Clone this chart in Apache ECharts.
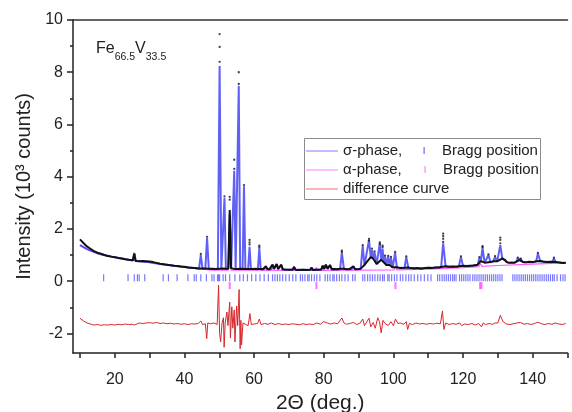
<!DOCTYPE html>
<html><head><meta charset="utf-8">
<script src="https://cdn.jsdelivr.net/npm/echarts@6/dist/echarts.min.js"></script>
<style>html,body{margin:0;padding:0;background:#fff}#c{width:572px;height:412px}</style>
</head><body><div id="c"></div>
<script>
// ---- tick labels ----
const xLabelValues = [20, 40, 60, 80, 100, 120, 140];
const xTickValues = [10, 20, 30, 40, 50, 60, 70, 80, 90, 100, 110, 120, 130, 140, 150];
const yLabelValues = [-2, 0, 2, 4, 6, 8, 10];
const yMinorValues = [-1, 1, 3, 5, 7, 9];

// ---- calculated profile (sigma-phase fit), [2theta, intensity 10^3] ----
const calcProfile = [
[10,1.38],[11,1.30],[12,1.23],[13,1.17],[14,1.12],[15,1.07],[16,1.03],[17,1.00],[18,0.97],[19,0.94],[20,0.92],[22,0.87],[24,0.82],[25.2,0.79],[25.6,1.08],[26.0,0.78],[28,0.75],[30,0.72],[32,0.68],[34,0.64],[36,0.61],[38,0.57],[40,0.54],[42,0.51],
[44.2,0.49],[44.7,1.0],[45.2,0.48],[46.0,0.48],[46.5,1.65],[47.0,0.47],[49.6,0.47],[50.1,8.24],[50.6,0.47],[51.1,0.47],[51.5,3.19],[51.9,0.47],[52.6,0.47],[53.0,2.55],[53.4,0.47],[53.9,0.47],[54.3,4.23],[54.7,0.47],[55.2,0.47],[55.6,7.47],[56.0,0.47],[56.7,0.47],[57.1,3.63],[57.5,0.47],[58.3,0.47],[58.7,1.32],[59.1,0.47],
[61.1,0.46],[61.5,1.27],[61.9,0.46],[63.0,0.47],[63.4,0.55],[63.8,0.46],[64.9,0.46],[65.3,0.62],[65.7,0.47],[66.1,0.47],[66.5,0.65],[66.9,0.46],[67.4,0.46],[67.8,0.62],[68.2,0.45],[71.1,0.44],[71.5,0.53],[71.9,0.44],[76.1,0.44],[76.5,0.5],[76.9,0.44],
[79.3,0.45],[79.7,0.58],[80.1,0.46],[80.6,0.62],[81.1,0.47],[81.8,0.6],[82.3,0.46],[84.7,0.46],[85.2,1.09],[85.8,0.47],[88.0,0.46],[88.5,0.55],[89.0,0.46],[90.6,0.47],[91.2,1.35],[91.7,0.6],[92.2,0.62],[93.0,1.58],[93.5,0.9],[93.85,1.2],[94.2,0.85],[94.6,1.1],[95.2,0.65],[95.6,0.7],[96.1,1.45],[96.5,0.8],[96.9,1.25],[97.25,0.7],[97.6,0.95],[98.0,0.6],[98.5,0.95],[98.9,0.6],[99.3,0.9],[99.8,0.52],[100.0,0.5],[100.5,1.09],[101.0,0.52],
[103.2,0.5],[103.7,0.93],[104.3,0.51],[107,0.5],[110,0.51],[112,0.52],[113.7,0.53],[114.3,1.45],[115.0,0.56],[116,0.55],[118.8,0.56],[119.4,0.93],[120.0,0.58],[122,0.58],[124.2,0.62],[124.7,0.9],[125.1,0.75],[125.6,1.28],[126.2,0.7],[126.7,0.72],[127.3,1.0],[127.9,0.72],[128.6,0.75],[129.2,0.93],[129.8,0.75],[130.2,0.8],[130.7,1.38],[131.3,0.85],[132.0,0.8],[132.6,0.72],[134,0.7],[135.2,0.72],[135.7,0.87],[136.2,0.8],[136.6,0.83],[137.3,0.72],[140,0.72],[141.0,0.75],[141.5,1.06],[142.2,0.76],[143,0.74],[145.5,0.72],[146.1,0.87],[146.7,0.72],[149.5,0.7]
];

// ---- alpha-phase contribution ----
const alphaProfile = [
[10,1.38],[12,1.23],[14,1.12],[16,1.03],[18,0.97],[20,0.92],[24,0.82],[28,0.75],[32,0.68],[36,0.61],[40,0.54],[44,0.47],[48,0.42],[52.6,0.42],[53.0,0.95],[53.4,0.42],[60,0.42],[70,0.41],[77.5,0.41],[77.9,0.52],[78.3,0.41],[90,0.42],[100.2,0.43],[100.6,0.56],[101.0,0.43],[110,0.46],[120,0.52],[124.6,0.56],[125.0,0.68],[125.4,0.57],[130,0.6],[140,0.65],[149.5,0.7]
];

// ---- observed data: dense background run ----
const observedRun = [
[10,1.60],[10.5,1.53],[11,1.46],[11.5,1.40],[12,1.33],[12.5,1.29],[13,1.24],[13.5,1.20],[14,1.15],[14.5,1.12],[15,1.09],[15.5,1.07],[16,1.05],[16.5,1.02],[17,1.00],[17.5,0.99],[18,0.96],[18.5,0.97],[19,0.94],[19.5,0.93],[20,0.92],[20.5,0.90],[21,0.89],[21.5,0.88],[22,0.87],[22.5,0.85],[23,0.84],[23.5,0.83],[24,0.82],[24.5,0.80],[25.2,0.80],[25.6,1.05],[26,0.77],[26.5,0.78],[27,0.76],[27.5,0.78],[28,0.77],[28.5,0.78],[29,0.76],[29.5,0.77],[30,0.75],[30.5,0.74],[31,0.73],[31.5,0.72],[32,0.70],[32.5,0.69],[33,0.67],[33.5,0.67],[34,0.65],[34.5,0.64],[35,0.63],[35.5,0.63],[36,0.61],[36.5,0.60],[37,0.59],[37.5,0.58],[38,0.58],[38.5,0.57],[39,0.56],[39.5,0.55],[40,0.55],[40.5,0.53],[41,0.52],[41.5,0.53],[42,0.51],[42.5,0.50],[43,0.50],[43.5,0.49],[44,0.49],[44.5,0.48],[45.5,0.49],[46,0.48],[47,0.48],[47.5,0.47],[48,0.48],[48.5,0.46],[49,0.47],[49.5,0.48],[51,0.49],[52,0.48],[52.6,0.49],[53.0,2.72],[53.4,0.5],[54,0.48],[55,0.47],[56.3,0.48],[57.8,0.47],[59.5,0.47],
[60,0.46],[60.5,0.48],[61.1,0.47],[61.9,0.47],[62.5,0.46],[63,0.47],[63.4,0.57],[63.8,0.47],[64.4,0.46],[64.9,0.47],[65.3,0.64],[65.7,0.48],[66.1,0.47],[66.5,0.66],[66.9,0.47],[67.4,0.47],[67.8,0.63],[68.2,0.46],[69,0.45],[70,0.44],[71.1,0.45],[71.5,0.55],[71.9,0.44],[73,0.43],[74,0.44],[75,0.43],[76.1,0.44],[76.5,0.52],[76.9,0.43],[78,0.44],[79.3,0.45],[79.7,0.6],[80.1,0.47],[80.6,0.63],[81.1,0.48],[81.8,0.62],[82.3,0.46],[83,0.47],[84,0.46],[84.7,0.48],[85.8,0.48],[86.5,0.46],[87.5,0.47],[88,0.46],[88.5,0.57],[89,0.46],[90,0.47],[90.6,0.48],[91.7,0.62],[92.2,0.64],[93.5,0.92],[94.2,0.86],[95.2,0.66],[95.6,0.72],[96.5,0.82],[97.25,0.72],[98.0,0.62],[98.9,0.62],[99.8,0.53],[100.0,0.51],[101.0,0.53],[102,0.5],[103.2,0.51],[104.3,0.52],[105,0.5],[106,0.49],[107,0.5],[108,0.48],[109,0.5],[110,0.51],[111,0.5],[112,0.52],[113,0.52],[113.7,0.54],[115.0,0.57],[116,0.55],[117,0.56],[118,0.55],[118.8,0.57],[120.0,0.59],[121,0.58],[122,0.59],[123,0.6],[124.2,0.63],[125.1,0.77],[126.2,0.71],[126.7,0.73],[127.9,0.73],[128.6,0.76],[129.8,0.76],[130.2,0.82],[131.3,0.87],[132.0,0.82],[132.6,0.73],[133.3,0.7],[134,0.72],[134.6,0.7],[135.2,0.74],[136.2,0.81],[137.3,0.73],[138,0.72],[139,0.74],[140,0.73],[141.0,0.76],[142.2,0.77],[143,0.75],[144,0.73],[145,0.74],[145.5,0.73],[146.7,0.73],[147.5,0.72],[148.5,0.7],[149.5,0.71]
];

// ---- observed data: points on peaks ----
const observedPeakPoints = [
[50.1,9.46],[50.1,8.97],[50.1,8.4],[55.6,8.0],[55.6,7.55],[54.3,4.65],[54.3,4.3],[53.0,3.23],[53.0,3.12],[51.5,3.25],[57.1,3.68],[46.5,1.7],[44.7,1.04],[58.7,1.58],[58.7,1.48],[58.7,1.4],[61.5,1.3],[61.5,1.36],
[85.2,1.12],[85.2,1.17],[91.2,1.38],[93.0,1.55],[93.0,1.62],[93.85,1.25],[94.6,1.14],[96.1,1.42],[96.1,1.48],[96.9,1.3],[96.9,1.36],[97.6,0.98],[98.5,0.97],[99.3,0.93],[100.5,1.12],[103.7,0.95],
[114.3,1.5],[114.3,1.62],[114.3,1.72],[114.3,1.82],[119.4,0.95],[124.7,0.92],[125.6,1.3],[125.6,1.34],[127.3,1.03],[129.2,0.96],[130.7,1.45],[130.7,1.58],[130.7,1.67],[135.7,0.9],[136.6,0.86],[141.5,1.08],[146.1,0.9]
];

// ---- difference curve (offset) ----
const differenceCurve = [
[10,-1.42],[10.5,-1.48],[11,-1.52],[11.5,-1.57],[12,-1.6],[13,-1.64],[14,-1.68],[15,-1.66],[16,-1.69],[17,-1.67],[18,-1.68],[19,-1.66],[20,-1.68],[21,-1.65],[22,-1.67],[23,-1.64],[24,-1.66],[25,-1.65],[25.6,-1.68],[26,-1.63],[27,-1.6],[28,-1.62],[29,-1.6],[30,-1.59],[31,-1.61],[32,-1.58],[33,-1.62],[34,-1.6],[35,-1.63],[36,-1.61],[37,-1.64],[38,-1.62],[39,-1.65],[40,-1.63],[41,-1.66],[42,-1.63],[43,-1.64],[44,-1.62],[44.7,-1.52],[45.2,-1.66],[46.0,-1.63],[46.4,-2.2],[46.7,-1.6],[47.5,-1.63],[48.5,-1.6],[49.4,-1.66],[49.8,-0.15],[50.1,-2.0],[50.4,-2.33],[50.8,-1.6],[51.2,-1.4],[51.4,-2.53],[51.7,-1.6],[52.2,-1.18],[52.5,-1.7],[53.0,-0.8],[53.2,-2.17],[53.6,-0.98],[53.9,-1.8],[54.3,-1.1],[54.5,-2.33],[55.0,-0.95],[55.3,-1.7],[55.7,-0.32],[56.0,-2.59],[56.2,-1.5],[56.4,-2.44],[56.8,-1.6],[57.5,-1.65],[58.3,-1.7],[58.8,-1.24],[59.2,-1.66],[60,-1.64],[61,-1.62],[61.5,-1.45],[62,-1.66],[63,-1.62],
[64,-1.65],[65,-1.6],[66,-1.66],[67,-1.62],[68,-1.66],[69,-1.64],[70,-1.66],[71,-1.63],[72,-1.65],[73,-1.67],[74,-1.63],[75,-1.66],[76,-1.64],[77,-1.66],[78,-1.6],[79,-1.65],[80,-1.55],[81,-1.6],[82,-1.64],[83,-1.6],[84,-1.63],[85.2,-1.41],[85.8,-1.6],[86.5,-1.65],[87.5,-1.62],[88.5,-1.58],[89.5,-1.66],[90.5,-1.6],[91.2,-1.45],[91.7,-1.7],[92.4,-1.55],[93.0,-1.42],[93.5,-1.75],[94.2,-1.58],[94.8,-1.8],[95.5,-1.4],[96.0,-1.55],[96.5,-1.98],[97.0,-1.5],[97.6,-1.62],[98.5,-1.7],[99.3,-1.55],[100.0,-1.7],[100.6,-1.45],[101.3,-1.62],[102,-1.6],[103,-1.65],[103.7,-1.55],[104.1,-1.85],[104.6,-1.62],[105.5,-1.66],[106.5,-1.6],[107.5,-1.64],[108.5,-1.62],[109.5,-1.65],[110.5,-1.62],[111.5,-1.64],[112.5,-1.61],[113.5,-1.63],[114.1,-1.14],[114.5,-1.85],[115,-1.6],[116,-1.66],[117,-1.62],[118,-1.65],[119,-1.6],[119.6,-1.7],[120.5,-1.64],[121.5,-1.66],[122.5,-1.62],[123.5,-1.68],[124.5,-1.62],[125.3,-1.75],[125.8,-1.6],[126.5,-1.66],[127.5,-1.62],[128.5,-1.65],[129.2,-1.6],[130.0,-1.6],[130.7,-1.31],[131.5,-1.55],[132.5,-1.64],[133.5,-1.66],[134.5,-1.63],[135.5,-1.6],[136.5,-1.58],[137.5,-1.65],[138.5,-1.62],[139.5,-1.66],[140.5,-1.62],[141.5,-1.57],[142.5,-1.63],[143.5,-1.66],[144.5,-1.62],[145.5,-1.65],[146.5,-1.6],[147.5,-1.64],[148.5,-1.66],[149.5,-1.62]
];

// ---- Bragg positions ----
const sigmaBragg = [16.8,23.8,25.6,26.5,27.0,28.6,33.9,35.4,37.9,41.0,42.8,43.4,44.7,46.3,47.9,48.5,49.5,49.8,50.1,51.1,51.8,53.0,54.5,55.9,56.9,58.1,59.3,60.5,61.7,62.9,64.1,65.3,66.0,66.7,67.4,68.2,69.1,70.1,71.1,72.0,73.3,73.9,74.6,75.4,75.8,76.5,77.3,78.0,78.9,80.4,81.1,81.8,82.6,83.0,83.7,84.5,85.2,86.1,87.0,88.3,89.0,91.2,91.8,92.6,93.3,94.0,94.7,95.5,96.2,96.9,97.4,98.4,98.8,99.5,100.3,101.0,102.0,102.7,103.6,104.4,105.1,106.0,107.0,107.9,108.9,109.9,110.8,112.7,113.3,114.0,114.6,115.2,115.8,116.4,117.0,117.5,118.0,119.0,119.6,120.2,120.8,121.4,122.0,122.8,123.4,124.0,124.6,125.2,125.8,126.4,127.0,127.6,128.2,128.8,129.4,130.0,130.6,131.2,134.3,134.9,135.5,136.1,136.7,137.3,137.9,138.5,139.1,139.7,140.3,140.9,141.5,142.1,142.7,143.3,143.9,144.5,145.1,145.7,146.2,147.0,148.0,148.7,149.3];
const alphaBragg = [53.0, 77.9, 100.6, 124.9, 125.3];
const sigmaTickLevel = 0.13;
const alphaTickLevel = -0.17;

const FONT = '"Liberation Sans", Arial, sans-serif';
const AX = '#222';
const chart = echarts.init(document.getElementById('c'), null, {renderer: 'canvas'});
const option = {
  animation: false,
  grid: {left: 73, right: 4.5, top: 20, bottom: 59, containLabel: false, outerBoundsMode: 'none'},
  xAxis: [{
    type: 'value', min: 8, max: 150, position: 'bottom',
    axisLine: {show: true, onZero: false, lineStyle: {color: AX, width: 1.5}},
    axisTick: {show: true, customValues: xTickValues, inside: false, length: 5, lineStyle: {color: AX, width: 1.5}},
    axisLabel: {customValues: xLabelValues, fontSize: 16, color: AX, margin: 19, fontFamily: FONT},
    splitLine: {show: false},
    name: '2Θ (deg.)', nameLocation: 'middle', nameGap: 37,
    nameTextStyle: {fontSize: 21, color: AX, fontFamily: FONT}
  }, {
    type: 'value', min: 8, max: 150, position: 'top',
    axisLine: {show: true, onZero: false, lineStyle: {color: '#333', width: 1.5}},
    axisTick: {show: false}, axisLabel: {show: false}, splitLine: {show: false}
  }],
  yAxis: [{
    type: 'value', min: -2.75, max: 10, position: 'left',
    axisLine: {show: true, onZero: false, lineStyle: {color: AX, width: 1.5}},
    axisTick: {show: true, customValues: yLabelValues, inside: false, length: 6, lineStyle: {color: AX, width: 1.5}},
    axisLabel: {customValues: yLabelValues, fontSize: 16, color: AX, margin: 10, fontFamily: FONT},
    splitLine: {show: false},
    name: 'Intensity (10³ counts)', nameLocation: 'middle', nameGap: 39, nameRotate: 90,
    nameTextStyle: {fontSize: 20, color: AX, fontFamily: FONT}
  }, {
    type: 'value', min: -2.75, max: 10, position: 'left', offset: 0,
    axisLine: {show: false, onZero: false},
    axisTick: {show: true, customValues: yMinorValues, inside: false, length: 3, lineStyle: {color: AX, width: 1.5}},
    axisLabel: {show: false}, splitLine: {show: false}
  }],
  series: [
    {name: 'alpha', type: 'line', data: alphaProfile, symbol: 'none', silent: true, z: 2,
     lineStyle: {color: '#ff5cff', width: 1.2}},
    {name: 'calc', type: 'line', data: calcProfile, symbol: 'none', silent: true, z: 3,
     lineStyle: {color: '#3838f5', width: 2, opacity: 0.8}},
    {name: 'obs', type: 'line', data: observedRun, symbol: 'none', silent: true, z: 4,
     lineStyle: {color: '#111', width: 2}},
    {name: 'obsPts', type: 'scatter', data: observedPeakPoints, symbol: 'circle', symbolSize: 2.3, silent: true, z: 5,
     itemStyle: {color: '#111'}},
    {name: 'diff', type: 'line', data: differenceCurve, symbol: 'none', silent: true, z: 3,
     lineStyle: {color: '#d7262b', width: 1}},
    {name: 'sigmaBragg', type: 'scatter', data: sigmaBragg.map(v => [v, sigmaTickLevel]), symbol: 'rect', symbolSize: [1.2, 7], silent: true, z: 3,
     itemStyle: {color: '#5757ff'}},
    {name: 'alphaBragg', type: 'scatter', data: alphaBragg.map(v => [v, alphaTickLevel]), symbol: 'rect', symbolSize: [2, 7], silent: true, z: 3,
     itemStyle: {color: '#ff4dff'}}
  ],
  graphic: [
    {type: 'text', x: 96, y: 35, z: 100, style: {
      text: '{a|Fe}{b|66.5}{a|V}{b|33.5}',
      rich: {
        a: {fontSize: 16, fontFamily: FONT, fill: AX, lineHeight: 28, verticalAlign: 'middle'},
        b: {fontSize: 10.5, fontFamily: FONT, fill: AX, verticalAlign: 'bottom'}
      }}},
    {type: 'rect', z: 100, shape: {x: 304.5, y: 138.5, width: 236, height: 61}, style: {fill: '#fff', stroke: '#8c8c8c', lineWidth: 1}},
    {type: 'line', z: 101, shape: {x1: 306, y1: 151, x2: 338, y2: 151}, style: {stroke: '#8080ff', lineWidth: 1}},
    {type: 'line', z: 101, shape: {x1: 306, y1: 170, x2: 338, y2: 170}, style: {stroke: '#ff80ff', lineWidth: 1}},
    {type: 'line', z: 101, shape: {x1: 306, y1: 189, x2: 338, y2: 189}, style: {stroke: '#ff6a6a', lineWidth: 1}},
    {type: 'text', z: 101, x: 343, y: 151, style: {text: 'σ-phase,', fontSize: 15, fontFamily: FONT, fill: AX, verticalAlign: 'middle'}},
    {type: 'text', z: 101, x: 343, y: 170, style: {text: 'α-phase,', fontSize: 15, fontFamily: FONT, fill: AX, verticalAlign: 'middle'}},
    {type: 'text', z: 101, x: 343, y: 189, style: {text: 'difference curve', fontSize: 15, fontFamily: FONT, fill: AX, verticalAlign: 'middle'}},
    {type: 'rect', z: 101, shape: {x: 423.5, y: 147, width: 1.2, height: 7}, style: {fill: '#6a6aff'}},
    {type: 'rect', z: 101, shape: {x: 424.5, y: 166, width: 1.2, height: 7}, style: {fill: '#ff80ff'}},
    {type: 'text', z: 101, x: 442, y: 151, style: {text: 'Bragg position', fontSize: 15, fontFamily: FONT, fill: AX, verticalAlign: 'middle'}},
    {type: 'text', z: 101, x: 443, y: 170, style: {text: 'Bragg position', fontSize: 15, fontFamily: FONT, fill: AX, verticalAlign: 'middle'}}
  ]
};
chart.setOption(option);
</script>
</body></html>
